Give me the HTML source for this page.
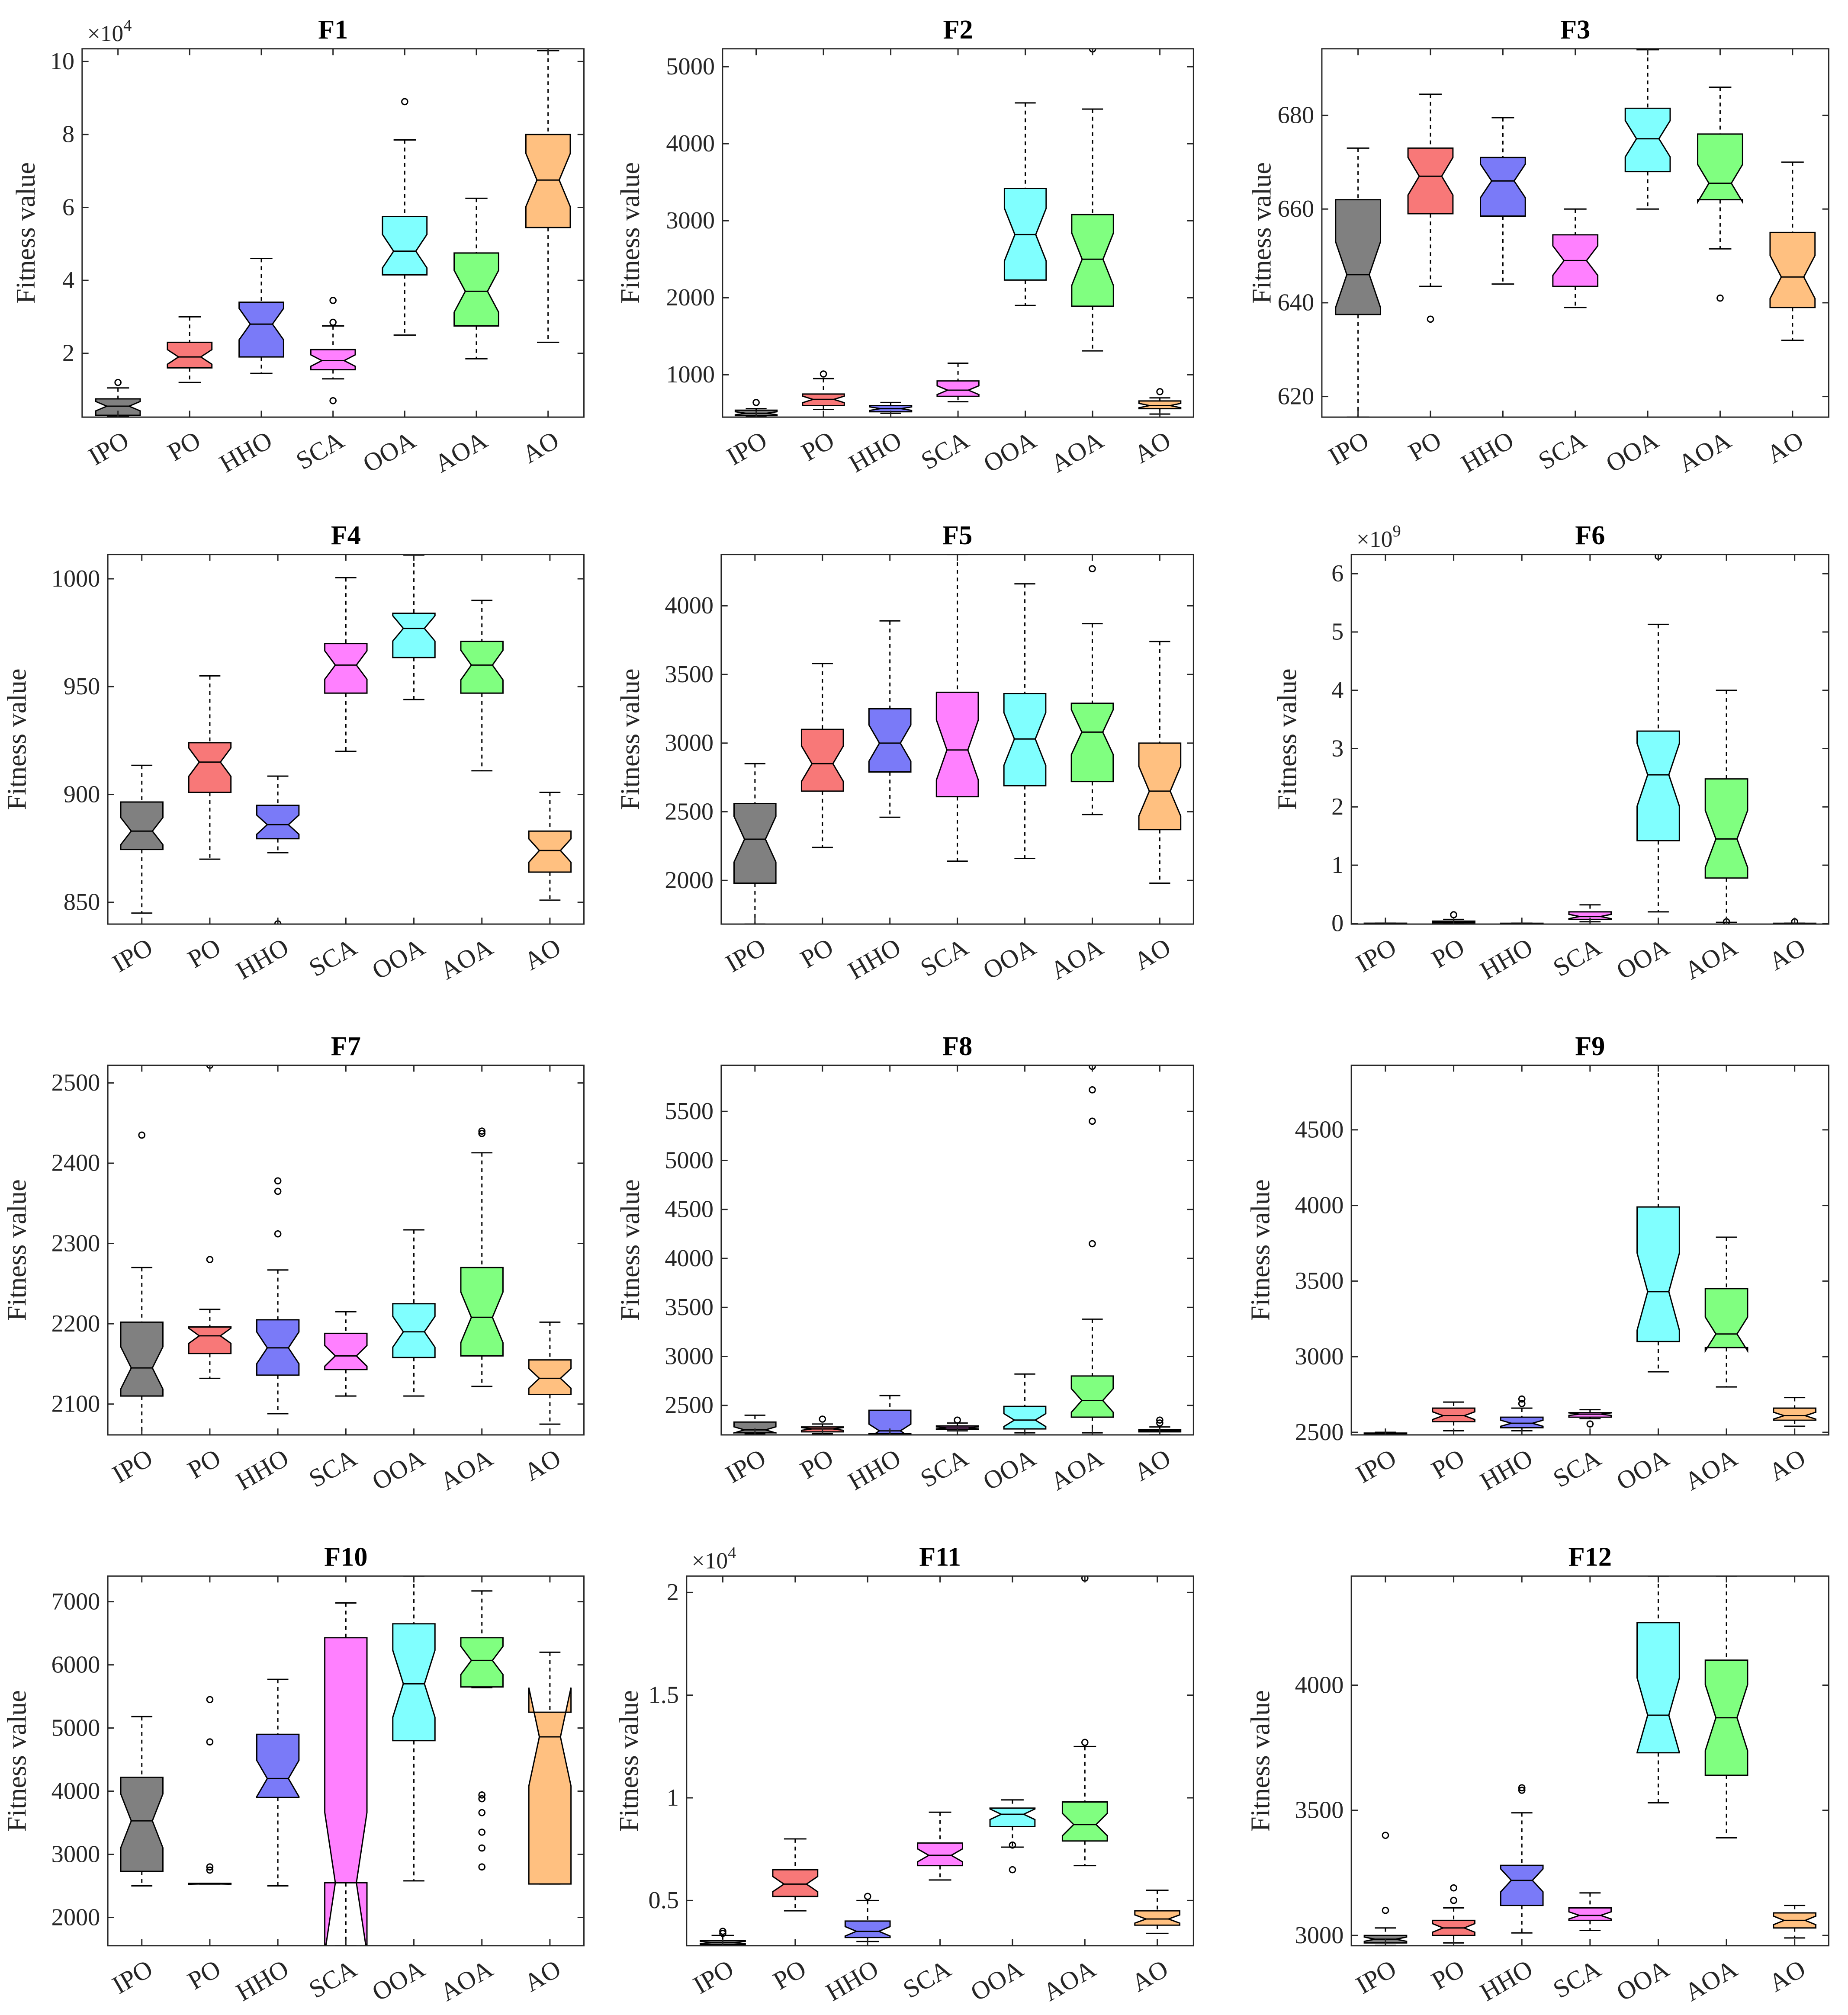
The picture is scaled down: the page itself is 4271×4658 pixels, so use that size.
<!DOCTYPE html>
<html><head><meta charset="utf-8"><title>Boxplots F1-F12</title>
<style>html,body{margin:0;padding:0;background:#fff;}svg{display:block;font-family:"Liberation Serif",serif;}svg text{font-family:"Liberation Serif",serif;}</style>
</head><body>
<svg id="fig" xmlns="http://www.w3.org/2000/svg" width="4271" height="4658" viewBox="0 0 1440 1570" preserveAspectRatio="none"></svg>
<script>
const categories=["IPO","PO","HHO","SCA","OOA","AOA","AO"];
const colors=["#808080","#f87878","#7a7af8","#ff80ff","#80ffff","#80ff80","#ffc080"];

const f1_low=[0.28,1.2,1.45,1.3,2.5,1.85,2.3];
const f1_q1=[0.3,1.6,1.9,1.55,4.15,2.75,5.45];
const f1_med=[0.55,1.9,2.8,1.8,4.8,3.7,6.75];
const f1_q3=[0.75,2.3,3.4,2.1,5.75,4.75,8.0];
const f1_high=[1.05,3.0,4.6,2.75,7.85,6.25,10.3];
const f1_out=[[1.2],[],[],[0.7,2.85,3.45],[8.9],[],[]];

const f2_low=[460,550,500,650,1900,1310,490];
const f2_q1=[470,600,520,720,2230,1890,560];
const f2_med=[500,680,560,800,2820,2500,600];
const f2_q3=[540,750,600,920,3420,3080,660];
const f2_high=[560,950,640,1150,4530,4450,700];
const f2_out=[[640],[1010],[],[],[],[5230],[780]];

const f3_low=[615.6,643.5,644,639,660,651.5,632];
const f3_q1=[637.5,659,658.5,643.5,668,662,639];
const f3_med=[646,667,666,649,675,665.5,645.5];
const f3_q3=[662,673,671,654.5,681.5,676,655];
const f3_high=[673,684.5,679.5,660,694,686,670];
const f3_out=[[],[636.5],[],[],[],[641],[]];

const f4_low=[845,870,873,920,944,911,851];
const f4_q1=[874.5,901,879.5,947,963.5,947,864];
const f4_med=[883,915,886,960,977,960,874];
const f4_q3=[896.5,924,895,970,984,971,883];
const f4_high=[913.5,955,908.5,1000.5,1011,990,901];
const f4_out=[[],[],[840],[],[],[],[]];

const f5_low=[1682,2240,2460,2140,2160,2480,1980];
const f5_q1=[1980,2650,2790,2610,2690,2720,2370];
const f5_med=[2300,2850,3000,2950,3030,3080,2650];
const f5_q3=[2560,3100,3250,3370,3360,3290,3000];
const f5_high=[2850,3580,3890,4374,4160,3870,3740];
const f5_out=[[],[],[],[],[],[4270],[]];

const f6_low=[0.002,0.0,0.001,0.03,0.2,0.02,0.001];
const f6_q1=[0.003,0.01,0.002,0.07,1.42,0.78,0.002];
const f6_med=[0.004,0.02,0.003,0.12,2.55,1.45,0.003];
const f6_q3=[0.005,0.04,0.004,0.2,3.3,2.48,0.004];
const f6_high=[0.006,0.07,0.005,0.32,5.13,4.0,0.005];
const f6_out=[[],[0.15],[],[],[6.3],[0.03],[0.03]];

const f7_low=[2061,2132,2088,2110,2110,2122,2075];
const f7_q1=[2110,2163,2136,2143,2158,2160,2112];
const f7_med=[2145,2185,2170,2160,2190,2208,2132];
const f7_q3=[2202,2196,2205,2188,2225,2270,2155];
const f7_high=[2270,2218,2267,2215,2317,2413,2202];
const f7_out=[[2435],[2280,2522],[2312,2365,2378],[],[],[2437,2440],[]];

const f8_low=[2210,2210,2200,2240,2220,2220,2200];
const f8_q1=[2220,2230,2210,2255,2260,2380,2230];
const f8_med=[2250,2260,2240,2270,2350,2550,2240];
const f8_q3=[2330,2280,2450,2290,2490,2800,2250];
const f8_high=[2400,2310,2600,2320,2820,3380,2280];
const f8_out=[[],[2360],[],[2350],[],[4150,5400,5720,5960],[2320,2350]];

const f9_low=[2484,2510,2510,2590,2900,2800,2540];
const f9_q1=[2487,2570,2530,2600,3100,3060,2580];
const f9_med=[2490,2610,2560,2620,3430,3150,2610];
const f9_q3=[2495,2660,2600,2630,3990,3450,2660];
const f9_high=[2500,2700,2660,2650,4927,3790,2730];
const f9_out=[[],[],[2690,2720],[2555],[],[],[]];

const f10_low=[2500,2530,2500,1553,2580,5640,2530];
const f10_q1=[2730,2530,3900,2550,4800,5650,2530];
const f10_med=[3530,2530,4200,2550,5700,6070,4860];
const f10_q3=[4220,2540,4900,6430,6650,6430,5250];
const f10_high=[5180,2540,5770,6980,7406,7170,6200];
const f10_out=[[],[2750,2800,4780,5450],[],[],[],[2800,3100,3350,3660,3880,3940],[]];

const f11_low=[0.27,0.45,0.3,0.6,0.76,0.67,0.34];
const f11_q1=[0.285,0.52,0.32,0.67,0.86,0.79,0.38];
const f11_med=[0.295,0.58,0.35,0.72,0.92,0.87,0.41];
const f11_q3=[0.305,0.65,0.4,0.78,0.95,0.98,0.45];
const f11_high=[0.33,0.8,0.5,0.93,0.99,1.25,0.55];
const f11_out=[[0.34,0.35,0.26],[],[0.52],[],[0.77,0.65],[1.27,2.07],[]];

const f12_low=[2960,2970,3010,3020,3530,3390,2990];
const f12_q1=[2970,3000,3120,3060,3730,3640,3030];
const f12_med=[2985,3030,3220,3080,3880,3870,3060];
const f12_q3=[3000,3060,3280,3110,4250,4100,3090];
const f12_high=[3030,3110,3490,3170,4436,4436,3120];
const f12_out=[[3100,3400],[3140,3190],[3580,3590],[],[],[],[]];

const f1_ticks=[2,4,6,8,10], f2_ticks=[1000,2000,3000,4000,5000], f3_ticks=[620,640,660,680];
const f4_ticks=[850,900,950,1000], f5_ticks=[2000,2500,3000,3500,4000], f6_ticks=[0,1,2,3,4,5,6];
const f7_ticks=[2100,2200,2300,2400,2500], f8_ticks=[2500,3000,3500,4000,4500,5000,5500], f9_ticks=[2500,3000,3500,4000,4500];
const f10_ticks=[2000,3000,4000,5000,6000,7000], f11_ticks=[0.5,1,1.5,2], f12_ticks=[3000,3500,4000];
const f11_tickLabels=["0.5","1","1.5","2"];

const panels=[
 {t:"F1",box:[64,38,455,325],yl:[0.25,10.35],lo:f1_low,q1:f1_q1,md:f1_med,q3:f1_q3,hi:f1_high,out:f1_out,ticks:f1_ticks,exp:"4",yo:37},
 {t:"F2",box:[563,38,930,325],yl:[450,5233],lo:f2_low,q1:f2_q1,md:f2_med,q3:f2_q3,hi:f2_high,out:f2_out,ticks:f2_ticks,yo:65},
 {t:"F3",box:[1030,38,1425,325],yl:[615.6,694.2],lo:f3_low,q1:f3_q1,md:f3_med,q3:f3_q3,hi:f3_high,out:f3_out,ticks:f3_ticks,yo:40},
 {t:"F4",box:[84,432,455,720],yl:[839.9,1011.3],lo:f4_low,q1:f4_q1,md:f4_med,q3:f4_q3,hi:f4_high,out:f4_out,ticks:f4_ticks,yo:64},
 {t:"F5",box:[562,432,930,720],yl:[1682,4374],lo:f5_low,q1:f5_q1,md:f5_med,q3:f5_q3,hi:f5_high,out:f5_out,ticks:f5_ticks,yo:64},
 {t:"F6",box:[1053,432,1425,720],yl:[-0.01,6.33],lo:f6_low,q1:f6_q1,md:f6_med,q3:f6_q3,hi:f6_high,out:f6_out,ticks:f6_ticks,exp:"9",yo:43},
 {t:"F7",box:[84,830,455,1118],yl:[2061.6,2522],lo:f7_low,q1:f7_q1,md:f7_med,q3:f7_q3,hi:f7_high,out:f7_out,ticks:f7_ticks,yo:64},
 {t:"F8",box:[562,830,930,1118],yl:[2199,5971],lo:f8_low,q1:f8_q1,md:f8_med,q3:f8_q3,hi:f8_high,out:f8_out,ticks:f8_ticks,yo:64},
 {t:"F9",box:[1053,830,1425,1118],yl:[2483,4927],lo:f9_low,q1:f9_q1,md:f9_med,q3:f9_q3,hi:f9_high,out:f9_out,ticks:f9_ticks,yo:64},
 {t:"F10",box:[84,1228,455,1516],yl:[1553,7406],lo:f10_low,q1:f10_q1,md:f10_med,q3:f10_q3,hi:f10_high,out:f10_out,ticks:f10_ticks,yo:64},
 {t:"F11",box:[535,1228,930,1516],yl:[0.28,2.08],lo:f11_low,q1:f11_q1,md:f11_med,q3:f11_q3,hi:f11_high,out:f11_out,ticks:f11_ticks,tl:f11_tickLabels,exp:"4",yo:38},
 {t:"F12",box:[1053,1228,1425,1516],yl:[2959,4436],lo:f12_low,q1:f12_q1,md:f12_med,q3:f12_q3,hi:f12_high,out:f12_out,ticks:f12_ticks,yo:64}
];

const NS="http://www.w3.org/2000/svg";
const FF='"Liberation Serif", serif';
const svg=document.getElementById('fig');
function mk(tag,attrs,parent,text){const e=document.createElementNS(NS,tag);for(const k in attrs)e.setAttribute(k,attrs[k]);if(tag==='text')e.setAttribute('font-family',FF);if(text!==undefined)e.textContent=text;(parent||svg).appendChild(e);return e;}
const defs=mk('defs',{});

panels.forEach((p,pi)=>{
 const [L,T,R,B]=p.box;
 const g=mk('g',{});
 
 
 const cp=mk('clipPath',{id:'cp'+pi},defs);
 mk('rect',{x:L,y:T,width:R-L,height:B-T},cp);
 const ys=v=>B-(v-p.yl[0])/(p.yl[1]-p.yl[0])*(B-T);
 const step=(R-L)/7;
 const xs=i=>L+(i+0.5)*step;
 const w=step*0.31;
 const plot=mk('g',{'clip-path':'url(#cp'+pi+')'},g);
 for(let i=0;i<7;i++){
  const x=xs(i), q1=p.q1[i], q3=p.q3[i], md=p.md[i];
  const nd=0.2866*(q3-q1);
  const bg=mk('g',{},plot);
  
  
  mk('line',{x1:x,x2:x,y1:ys(p.hi[i]),y2:ys(q3),stroke:'#000','stroke-width':1,'stroke-dasharray':'3,3'},bg);
  mk('line',{x1:x,x2:x,y1:ys(q1),y2:ys(p.lo[i]),stroke:'#000','stroke-width':1,'stroke-dasharray':'3,3'},bg);
  mk('line',{x1:x-w*0.5,x2:x+w*0.5,y1:ys(p.hi[i]),y2:ys(p.hi[i]),stroke:'#000','stroke-width':1},bg);
  mk('line',{x1:x-w*0.5,x2:x+w*0.5,y1:ys(p.lo[i]),y2:ys(p.lo[i]),stroke:'#000','stroke-width':1},bg);
  const pts=[[x-w,q1],[x-w,md-nd],[x-w*0.5,md],[x-w,md+nd],[x-w,q3],[x+w,q3],[x+w,md+nd],[x+w*0.5,md],[x+w,md-nd],[x+w,q1]];
  mk('polygon',{points:pts.map(a=>a[0].toFixed(2)+','+ys(a[1]).toFixed(2)).join(' '),fill:colors[i],stroke:'#000','stroke-width':1},bg);
  mk('line',{x1:x-w*0.5,x2:x+w*0.5,y1:ys(md),y2:ys(md),stroke:'#000','stroke-width':1},bg);
  p.out[i].forEach(o=>{
   const c=mk('circle',{cx:x,cy:ys(o),r:2.3,fill:'none',stroke:'#000','stroke-width':1},bg);
   
   
  });
 }
 const fr=mk('rect',{x:L,y:T,width:R-L,height:B-T,fill:'none',stroke:'#262626','stroke-width':1},g);
 
 
 p.ticks.forEach((tv,ti)=>{
  const y=ys(tv);
  mk('line',{x1:L,x2:L+5,y1:y,y2:y,stroke:'#262626'},g);
  mk('line',{x1:R,x2:R-5,y1:y,y2:y,stroke:'#262626'},g);
  const tx=mk('text',{x:L-6,y:y+6,'text-anchor':'end','font-size':19,fill:'#262626'},g,p.tl?p.tl[ti]:String(tv));
  
  
 });
 for(let i=0;i<7;i++){
  const x=xs(i);
  mk('line',{x1:x,x2:x,y1:B,y2:B-5,stroke:'#262626'},g);
  mk('line',{x1:x,x2:x,y1:T,y2:T+5,stroke:'#262626'},g);
  const ax=x+10, ay=B+22;
  const tx=mk('text',{x:ax,y:ay,'text-anchor':'end','font-size':20,fill:'#262626',transform:'rotate(-30 '+ax+' '+ay+')'},g,categories[i]);
  
  
 }
 const tt=mk('text',{x:(L+R)/2,y:T-8,'text-anchor':'middle','font-size':21,'font-weight':'bold',fill:'#000'},g,p.t);
 
 
 const yx=L-p.yo, yy=(T+B)/2;
 const yl=mk('text',{x:yx,y:yy,'text-anchor':'middle','font-size':21,fill:'#262626',transform:'rotate(-90 '+yx+' '+yy+')'},g,'Fitness value');
 
 
 if(p.exp){
  const ex=mk('text',{x:L+4,y:T-6,'font-size':18,fill:'#262626'},g);
  
  
  mk('tspan',{},ex,'×10');
  mk('tspan',{dy:-8,'font-size':13},ex,p.exp);
 }
});
</script>
</body></html>
